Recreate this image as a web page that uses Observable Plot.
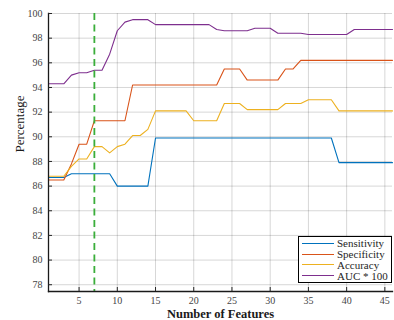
<!DOCTYPE html>
<html>
<head>
<meta charset="utf-8">
<script src="https://cdn.jsdelivr.net/npm/d3@7"></script>
<script src="https://cdn.jsdelivr.net/npm/@observablehq/plot@0.6"></script>
<style>
  html, body { margin: 0; padding: 0; background: #fff; }
  #wrap { position: relative; width: 394px; height: 320px; }
  #wrap svg text { font-family: "Liberation Serif", serif; }
  #legend {
    position: absolute; left: 298px; top: 236px; width: 94px; height: 47px;
    border: 1px solid #000; background: #fff; box-sizing: border-box;
    font-family: "Liberation Serif", serif; font-size: 11px; color: #262626;
    padding-top: 1px;
  }
  .row { display: flex; align-items: center; height: 10.8px; }
  .sw { width: 32px; height: 0; margin-left: 3px; margin-right: 3px; border-top: 1.3px solid; }
</style>
</head>
<body>
<div id="wrap"></div>
<script>
const features = d3.range(1, 47);
const selectedFeatures = [7];
const xTicks = [5, 10, 15, 20, 25, 30, 35, 40, 45];
const yTicks = [78, 80, 82, 84, 86, 88, 90, 92, 94, 96, 98, 100];

const seriesNames = ["Sensitivity", "Specificity", "Accuracy", "AUC * 100"];
const seriesColors = ["#0072BD", "#D95319", "#EDB120", "#7E2F8E"];

const sensitivity = [
  86.7, 86.7, 86.7, 87.0, 87.0, 87.0, 87.0, 87.0, 87.0, 86.0,
  86.0, 86.0, 86.0, 86.0, 89.9, 89.9, 89.9, 89.9, 89.9, 89.9,
  89.9, 89.9, 89.9, 89.9, 89.9, 89.9, 89.9, 89.9, 89.9, 89.9,
  89.9, 89.9, 89.9, 89.9, 89.9, 89.9, 89.9, 89.9, 87.9, 87.9,
  87.9, 87.9, 87.9, 87.9, 87.9, 87.9
];
const specificity = [
  86.5, 86.5, 86.5, 87.8, 89.4, 89.4, 91.3, 91.3, 91.3, 91.3,
  91.3, 94.2, 94.2, 94.2, 94.2, 94.2, 94.2, 94.2, 94.2, 94.2,
  94.2, 94.2, 94.2, 95.5, 95.5, 95.5, 94.6, 94.6, 94.6, 94.6,
  94.6, 95.5, 95.5, 96.2, 96.2, 96.2, 96.2, 96.2, 96.2, 96.2,
  96.2, 96.2, 96.2, 96.2, 96.2, 96.2
];
const accuracy = [
  86.8, 86.8, 86.8, 87.6, 88.2, 88.2, 89.2, 89.2, 88.7, 89.2,
  89.4, 90.1, 90.1, 90.6, 92.1, 92.1, 92.1, 92.1, 92.1, 91.3,
  91.3, 91.3, 91.3, 92.7, 92.7, 92.7, 92.2, 92.2, 92.2, 92.2,
  92.2, 92.7, 92.7, 92.7, 93.0, 93.0, 93.0, 93.0, 92.1, 92.1,
  92.1, 92.1, 92.1, 92.1, 92.1, 92.1
];
const auc100 = [
  94.3, 94.3, 94.3, 95.0, 95.2, 95.2, 95.4, 95.4, 96.7, 98.6,
  99.3, 99.5, 99.5, 99.5, 99.1, 99.1, 99.1, 99.1, 99.1, 99.1,
  99.1, 99.1, 98.7, 98.6, 98.6, 98.6, 98.6, 98.8, 98.8, 98.8,
  98.4, 98.4, 98.4, 98.4, 98.3, 98.3, 98.3, 98.3, 98.3, 98.3,
  98.7, 98.7, 98.7, 98.7, 98.7, 98.7
];

const seriesValues = [sensitivity, specificity, accuracy, auc100];
const rows = seriesNames.flatMap((name, s) =>
  features.map((f, i) => ({feature: f, value: seriesValues[s][i], metric: name}))
);

const serif = "Liberation Serif, serif";

const chart = Plot.plot({
  width: 394,
  height: 320,
  marginLeft: 48,
  marginRight: 2,
  marginTop: 13,
  marginBottom: 29,
  style: {fontFamily: serif, background: "#fff", color: "#333", overflow: "visible"},
  x: {domain: [1, 46], label: null},
  y: {domain: [77.45, 100], label: null},
  color: {domain: seriesNames, range: seriesColors},
  marks: [
    Plot.gridX(xTicks, {stroke: "#000", strokeOpacity: 0.16, strokeWidth: 1}),
    Plot.gridY(yTicks, {stroke: "#000", strokeOpacity: 0.16, strokeWidth: 1}),
    Plot.line(rows, {x: "feature", y: "value", z: "metric", stroke: "metric", strokeWidth: 1.1}),
    Plot.ruleX(selectedFeatures, {stroke: "#3aae3a", strokeWidth: 1.8, strokeDasharray: "7,4.5"}),
    Plot.frame({anchor: "left", stroke: "#1a1a1a", strokeWidth: 1.3}),
    Plot.frame({anchor: "bottom", stroke: "#1a1a1a", strokeWidth: 1.3}),
    Plot.axisX(xTicks, {tickSize: 4, dy: -4, text: null, label: null, stroke: "#262626"}),
    Plot.axisX(xTicks, {tickSize: 0, tickPadding: 5, fontSize: 10, fontFamily: serif, fill: "#444", label: null}),
    Plot.axisY(yTicks, {tickSize: 4, dx: 4, text: null, label: null, stroke: "#262626"}),
    Plot.axisY(yTicks, {tickSize: 0, tickPadding: 6, fontSize: 10, fontFamily: serif, fill: "#444", label: null}),
    Plot.text(["Number of Features"], {frameAnchor: "bottom", dy: 22, fontSize: 12.5, fontWeight: "bold", fontFamily: serif, fill: "#1a1a1a", lineAnchor: "middle"}),
    Plot.text(["Percentage"], {frameAnchor: "left", dx: -29, rotate: -90, fontSize: 13, fontFamily: serif, fill: "#1a1a1a"})
  ]
});

const wrap = document.getElementById("wrap");
wrap.appendChild(chart);

const legend = document.createElement("div");
legend.id = "legend";
seriesNames.forEach((name, i) => {
  const row = document.createElement("div");
  row.className = "row";
  const sw = document.createElement("span");
  sw.className = "sw";
  sw.style.borderTopColor = seriesColors[i];
  const label = document.createElement("span");
  label.textContent = name;
  row.appendChild(sw);
  row.appendChild(label);
  legend.appendChild(row);
});
wrap.appendChild(legend);
</script>
</body>
</html>
